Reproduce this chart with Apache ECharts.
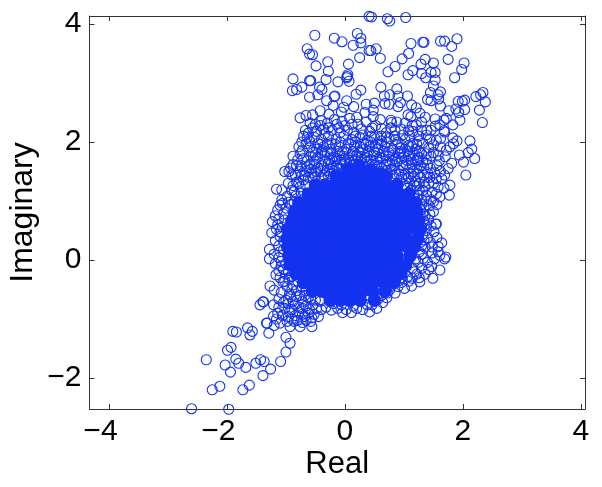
<!DOCTYPE html>
<html>
<head>
<meta charset="utf-8">
<style>
  html, body { margin: 0; padding: 0; background: #fff; }
  #chart { width: 602px; height: 487px; }
</style>
<script src="https://cdn.jsdelivr.net/npm/echarts@6/dist/echarts.min.js"></script>
</head>
<body>
<div id="chart"></div>
<script>
const xTicks = [-4, -2, 0, 2, 4];
const yTicks = [-2, 0, 2, 4];

// scattered points above the blob, read one by one
const topPoints = [
  [-0.51,3.81],[-0.18,3.76],[-0.05,3.70],[0.21,3.84],[0.27,3.76],[0.27,3.68],[0.14,3.64],[0.41,3.55],[0.25,3.43],
  [-0.64,3.58],[-0.60,3.49],[-0.55,3.48],[-0.49,3.29],[-0.29,3.36],[-0.28,3.20],[0.06,3.32],[-0.88,3.07],[-0.58,3.04],
  [-0.60,3.04],[-0.32,3.06],[-0.12,3.02],[0.04,3.11],[0.05,3.14],[0.03,3.09],[0.07,3.03],[-0.89,2.87],[-0.82,2.89],
  [-0.73,2.93],[-0.60,2.76],[-0.46,2.80],[-0.43,2.93],[-0.39,2.89],[-0.31,2.70],[-0.17,2.78],[-0.18,2.77],[0.27,2.88],
  [0.19,2.81],[0.03,2.70],[-0.20,2.62],[0.15,2.60],[0.36,2.64],[0.34,2.50],[0.20,2.42],[-0.02,2.59],[-0.06,2.51],
  [-0.42,2.53],[-0.76,2.41],[-0.66,2.45],[-0.55,2.46],[-0.27,2.47],[-0.67,2.20],[-0.59,2.32],[0.41,4.13],[0.45,4.12],
  [0.72,4.09],[0.76,4.05],[1.03,4.11],[1.12,3.67],[1.32,3.69],[1.34,3.69],[1.62,3.71],[1.69,3.71],[1.81,3.62],[1.90,3.75],
  [0.53,3.58],[0.44,3.55],[0.60,3.42],[1.08,3.50],[0.97,3.41],[1.75,3.40],[2.02,3.34],[1.98,3.23],[1.86,3.09],[1.36,3.40],
  [1.29,3.32],[1.50,3.34],[0.85,3.28],[0.73,3.19],[1.15,3.21],[1.07,3.14],[1.30,3.16],[1.37,3.09],[1.46,3.18],[1.53,3.18],
  [1.53,3.05],[1.50,2.95],[0.61,2.93],[0.88,2.90],[1.62,2.85],[1.45,2.84],[1.58,2.80],[0.67,2.78],[0.76,2.80],[0.90,2.78],
  [1.06,2.78],[1.40,2.72],[1.46,2.70],[1.59,2.73],[2.34,2.84],[2.30,2.80],[2.22,2.77],[2.38,2.68],[2.03,2.71],[1.92,2.69],
  [1.99,2.69],[0.50,2.66],[0.68,2.65],[0.75,2.64],[0.90,2.60],[0.94,2.67],[1.13,2.63],[1.21,2.58],[1.62,2.61],[1.76,2.53],
  [1.88,2.56],[2.03,2.55],[1.93,2.50],[2.28,2.54],[2.33,2.33],[1.95,2.37],[1.83,2.29],[0.48,2.54],[0.48,2.43],[0.78,2.37],
  [0.79,2.33],[0.62,2.23],[1.07,2.46],[1.12,2.43],[1.27,2.49],[1.36,2.42],[1.53,2.39],[1.72,2.40],[1.68,2.37],[1.02,2.32],
  [1.21,2.29],[1.61,2.29],[1.53,2.27],[1.39,2.20],[1.68,2.19]
];

// right side of the upper band
const rightPoints = [
  [2.20,1.72],[2.05,1.44],[2.12,2.02],[2.15,1.88],[2.09,1.82],[2.01,1.66],[1.90,2.02],[1.84,1.97],[1.83,2.07],[1.69,2.17],
  [1.94,1.78],[1.81,1.64],[1.60,1.68],[1.78,1.27],[1.77,1.10],[1.69,1.44],[1.64,1.38],[1.61,1.07],[1.58,1.24],[1.54,0.61],
  [1.50,0.99],[1.50,0.82],[1.51,0.48],[1.64,0.29],[1.58,0.23],[1.71,0.05],[1.61,0.08],[1.69,0.02],[1.61,-0.17],[1.55,0.61],
  [1.58,0.14],[1.49,-0.31],[1.47,-0.11],[1.27,-0.37],[1.13,-0.44],[1.01,-0.48],[0.85,-0.56],[0.71,-0.64],[0.54,-0.82],
  [0.42,-0.88],[0.11,-0.89],[-0.04,-0.89],[-0.23,-0.85],[1.72,1.86],[1.62,1.92],[1.55,2.03],[1.70,1.75],[1.50,1.82],
  [1.45,1.55],[1.52,1.48],[1.42,1.30],[1.48,1.15],[1.38,1.10],[1.43,0.92],[1.36,0.75],[1.42,0.68],[1.40,0.38],[1.45,0.30],
  [1.36,0.22],[1.48,0.12],[1.33,0.03],[1.40,-0.04],[1.30,-0.14],[1.36,-0.24],[1.22,-0.24],[1.14,-0.31],[0.96,-0.38],
  [0.90,-0.45],[0.76,-0.50],[0.64,-0.72],[0.30,-0.84],[0.20,-0.82],[0.02,-0.84],[-0.12,-0.82],[-0.32,-0.80],[-0.40,-0.84]
];

// dense ring band between y 1.4 and 2.4
const upperBand = [
  [-0.73,2.00],[-0.88,1.76],[-0.80,1.70],[-1.02,1.50],[-0.95,1.50],[-1.16,1.20],[-1.07,1.19],[-1.07,1.02],[-1.10,0.93],
  [-1.14,0.85],[-0.70,2.10],[-0.62,2.15],[-0.50,2.30],[-0.40,2.36],[-0.30,2.32],[-0.18,2.38],[-0.05,2.35],[0.08,2.40],
  [0.22,2.30],[0.36,2.34],[0.60,2.38],[0.88,2.34],[1.15,2.18],[1.30,2.34],[-0.48,2.18],[-0.36,2.22],[-0.22,2.20],[-0.10,2.24],
  [0.04,2.20],[0.15,2.16],[0.28,2.22],[0.42,2.18],[0.52,2.28],[0.70,2.16],[0.85,2.20],[0.98,2.12],[1.08,2.20],[1.25,2.10],
  [1.44,2.05],[-0.60,2.02],[-0.52,2.08],[-0.40,2.04],[-0.28,2.10],[-0.15,2.05],[-0.02,2.10],[0.12,2.04],[0.25,2.08],[0.38,2.03],
  [0.50,2.08],[0.62,2.02],[0.75,2.06],[0.90,2.00],[1.02,2.04],[1.15,1.98],[1.32,1.98],[1.42,1.90],[-0.72,1.86],[-0.60,1.90],
  [-0.48,1.88],[-0.36,1.92],[-0.24,1.88],[-0.10,1.92],[0.02,1.88],[0.16,1.92],[0.30,1.87],[0.42,1.92],[0.56,1.88],[0.68,1.92],
  [0.80,1.86],[0.94,1.90],[1.06,1.85],[1.20,1.88],[1.30,1.80],[-0.82,1.60],[-0.70,1.72],[-0.58,1.76],[-0.46,1.74],[-0.34,1.78],
  [-0.20,1.74],[-0.08,1.78],[0.06,1.74],[0.20,1.78],[0.34,1.74],[0.48,1.78],[0.60,1.74],[0.74,1.76],[0.86,1.72],[1.00,1.75],
  [1.12,1.70],[1.24,1.68],[1.38,1.70],[-0.90,1.44],[-0.76,1.50],[-0.64,1.58],[-0.52,1.62],[-0.40,1.60],[-0.28,1.64],[-0.14,1.60],
  [0.00,1.64],[0.12,1.60],[0.26,1.66],[0.70,1.62],[0.84,1.60],[0.98,1.60],[1.10,1.56],[1.22,1.54],[1.34,1.56],[-0.68,1.44],
  [-0.56,1.48],[-0.42,1.50],[-0.30,1.52],[-0.18,1.50],[1.02,1.46],[1.16,1.42],[1.28,1.40],[-0.82,1.32],[-0.70,1.36],[-0.96,1.30],
  [1.10,1.30],[1.22,1.25],[1.32,1.18],[-0.90,1.18],[-0.98,1.08],[1.30,1.02],[1.34,0.90]
];

// rings packed between the ones above, the band is close to solid in the reference
const upperFill = [
  [-0.55,2.24],[-0.42,2.28],[-0.28,2.24],[-0.14,2.30],[0.00,2.28],[0.12,2.30],[0.30,2.12],[0.46,2.24],[0.62,2.10],[0.78,2.24],
  [0.95,2.22],[1.14,2.28],[1.30,2.20],[-0.64,2.08],[-0.46,1.98],[-0.34,2.14],[-0.22,1.98],[-0.08,2.16],[0.06,1.98],[0.18,2.10],
  [0.32,1.98],[0.44,2.10],[0.56,1.97],[0.70,2.08],[0.84,2.10],[0.96,1.95],[1.10,2.10],[1.22,1.96],[1.38,2.12],[1.50,1.95],
  [-0.78,1.92],[-0.66,1.97],[-0.54,1.82],[-0.42,1.96],[-0.30,1.82],[-0.16,1.96],[-0.04,1.82],[0.10,1.96],[0.24,1.82],[0.36,1.96],
  [0.50,1.83],[0.62,1.96],[0.74,1.82],[0.88,1.96],[1.00,1.82],[1.14,1.92],[1.26,1.84],[1.38,1.80],[-0.88,1.62],[-0.76,1.80],
  [-0.64,1.68],[-0.52,1.68],[-0.40,1.82],[-0.26,1.70],[-0.12,1.84],[0.00,1.70],[0.14,1.84],[0.28,1.70],[0.40,1.84],[0.54,1.70],
  [0.66,1.84],[0.80,1.68],[0.92,1.80],[1.06,1.68],[1.18,1.78],[1.32,1.66],[1.46,1.76],[-0.92,1.56],[-0.74,1.60],[-0.58,1.54],
  [-0.46,1.56],[-0.34,1.68],[-0.22,1.56],[-0.06,1.70],[0.06,1.56],[0.18,1.70],[0.32,1.58],[0.44,1.70],[0.58,1.60],[0.70,1.52],
  [0.80,1.54],[0.92,1.52],[1.04,1.62],[1.16,1.50],[1.28,1.60],[1.40,1.48],[-0.84,1.44],[-0.62,1.40],[-0.50,1.42],[-0.36,1.44],
  [-0.24,1.46],[-0.10,1.54],[0.02,1.54],[0.14,1.52],[0.26,1.54],[0.38,1.58],[0.50,1.60],[0.62,1.56],[0.86,1.46],[0.96,1.40],
  [1.08,1.40],[1.20,1.34],[1.34,1.32],[-0.88,1.26],[-0.76,1.24],[-0.74,1.14],[-0.84,1.08],[-0.96,0.98],[1.00,1.28],[1.12,1.18],
  [1.24,1.10],[1.36,1.24],[1.38,1.00],[-0.92,0.94],[1.32,0.78],[1.34,0.66],[1.30,0.55],[1.38,0.50],[1.32,0.44],[1.28,0.30],
  [1.34,0.34],[1.26,0.14],[1.30,0.10],[1.20,0.02],[1.24,-0.04],[1.14,-0.14],[1.18,-0.20],[1.06,-0.28],[1.08,-0.36],[0.96,-0.30],
  [0.86,-0.36],[0.78,-0.44],[0.72,-0.56],[0.62,-0.60],[0.56,-0.66],[0.46,-0.76],[0.38,-0.76],[0.14,-0.78],[-0.06,-0.76],[-0.20,-0.74],
  [1.75,1.55],[1.58,1.78],[1.78,1.92],[1.62,2.06],[1.46,2.20],[1.56,1.60],[1.62,1.50],[1.55,1.38],[1.68,1.22],[1.50,1.30],
  [1.55,1.12],[1.46,1.02],[1.56,0.94],[1.44,0.78],[1.46,0.58],[1.56,0.38],[1.48,0.22],[1.52,0.02],[1.42,-0.16],[1.26,-0.30]
];

// tightest part of the band, right above the saturated middle
const upperDense = [
  [-0.60,1.62],[-0.48,1.50],[-0.36,1.56],[-0.24,1.62],[-0.16,1.68],[-0.04,1.62],[0.08,1.66],[0.16,1.62],[0.22,1.74],[0.36,1.66],
  [0.46,1.62],[0.56,1.66],[0.64,1.72],[0.76,1.64],[0.88,1.66],[0.96,1.72],[1.08,1.76],[1.14,1.62],[1.26,1.74],[-0.66,1.50],
  [-0.54,1.40],[-0.40,1.38],[-0.28,1.42],[-0.14,1.46],[0.72,1.46],[0.82,1.42],[0.92,1.46],[1.04,1.38],[1.12,1.46],[1.24,1.46],
  [1.34,1.44],[-0.74,1.42],[-0.78,1.30],[-0.66,1.26],[-0.86,1.16],[-0.72,1.02],[-0.86,0.98],[1.06,1.22],[1.18,1.26],[1.26,1.18],
  [1.18,1.06],[1.30,0.94],[1.28,0.84],[1.26,1.30],[-0.50,1.78],[-0.38,1.86],[-0.24,1.80],[-0.14,1.72],[-0.02,1.76],[0.12,1.78],
  [0.26,1.92],[0.38,1.78],[0.52,1.92],[0.70,1.78],[0.82,1.78],[0.94,1.84],[1.10,1.80],[1.22,1.70],[-0.30,1.96],[-0.08,2.00],
  [0.18,2.00],[0.44,2.00],[0.70,2.00],[0.86,2.04],[1.08,1.94],[1.26,2.02],[1.40,1.62],[1.44,1.40],[1.36,0.60],[1.30,0.24]
];

// left edge and lower left arm
const lowerBand = [
  [-1.23,0.65],[-1.24,0.46],[-1.28,0.18],[-1.28,0.02],[-1.17,-0.25],[-1.05,-0.37],[-1.27,-0.44],[-1.20,-0.51],[-1.44,-0.76],
  [-1.39,-0.71],[-1.33,-1.07],[-1.21,-0.76],[-1.21,-0.95],[-1.10,-1.07],[-0.93,-1.13],[-0.76,-1.13],[-0.56,-1.13],[-0.45,-0.96],
  [-1.18,0.75],[-1.12,0.70],[-1.16,0.52],[-1.10,0.40],[-1.18,0.33],[-1.12,0.24],[-1.20,0.10],[-1.12,0.04],[-1.18,-0.06],[-1.08,-0.10],
  [-1.12,-0.18],[-1.00,-0.24],[-0.95,-0.32],[-1.10,-0.30],[-0.98,-0.45],[-0.88,-0.42],[-1.08,-0.55],[-0.94,-0.58],[-0.82,-0.52],
  [-0.76,-0.60],[-1.12,-0.66],[-1.00,-0.68],[-0.88,-0.70],[-0.72,-0.70],[-0.62,-0.64],[-1.12,-0.80],[-1.02,-0.82],[-0.90,-0.84],
  [-0.78,-0.80],[-0.66,-0.78],[-0.54,-0.76],[-0.48,-0.82],[-1.06,-0.94],[-0.96,-0.96],[-0.84,-0.94],[-0.72,-0.92],[-0.62,-0.90],
  [-0.52,-0.92],[-0.98,-1.04],[-0.86,-1.04],[-0.66,-1.02],[-0.58,-1.04],[-1.38,-0.71],[-1.32,-1.07],[-1.20,-1.11],[-1.90,-1.21],
  [-1.84,-1.22],[-1.65,-1.15],[-1.57,-1.21],[-1.61,-1.27],[-1.29,-1.24],[-1.93,-1.48],[-1.99,-1.53],[-2.35,-1.69],[-2.03,-1.78],
  [-1.85,-1.68],[-1.80,-1.75],[-1.94,-1.90],[-1.68,-1.82],[-1.51,-1.75],[-1.43,-1.69],[-1.37,-1.72],[-1.26,-1.85],[-1.39,-1.96],
  [-1.09,-1.72],[-1.00,-1.56],[-0.93,-1.41],[-1.00,-1.31],[-2.12,-2.14],[-2.25,-2.20],[-1.62,-2.12],[-1.73,-2.20],[-2.60,-2.52],[-1.97,-2.53]
];

// more rings packed along the left edge and the start of the arm
const lowerFill = [
  [-1.14,0.60],[-1.06,0.56],[-1.10,0.48],[-1.04,0.32],[-1.10,0.14],[-1.04,0.18],[-1.08,-0.02],[-1.00,-0.06],[-1.04,-0.16],[-0.96,-0.18],
  [-1.02,0.68],[-1.04,0.78],[-1.00,0.88],[-1.06,0.96],[-0.90,-0.28],[-0.80,-0.36],[-0.72,-0.46],[-0.66,-0.52],[-0.90,-0.50],[-1.02,-0.36],
  [-0.92,-0.62],[-0.82,-0.62],[-0.68,-0.60],[-0.58,-0.66],[-0.50,-0.68],[-0.42,-0.70],[-0.96,-0.74],[-0.84,-0.76],[-0.72,-0.82],[-0.60,-0.84],
  [-0.94,-0.88],[-0.78,-0.88],[-0.68,-0.96],[-0.56,-0.98],[-1.14,-0.90],[-1.04,-0.72],[-0.90,-1.00],[-0.80,-1.02],[-0.72,-1.06],[-1.16,-1.00]
];

// saturated middle of the cloud, individual rings can't be told apart there
const corePoints = [
  [0.06,1.54],[0.24,1.60],[0.42,1.52],[0.60,1.46],
  [-0.15,1.42],[0.02,1.42],[0.19,1.42],[0.36,1.42],[0.53,1.42],[0.70,1.42],
  [-0.50,1.27],[-0.33,1.27],[-0.16,1.27],[0.01,1.27],[0.18,1.27],[0.35,1.27],[0.52,1.27],[0.69,1.27],[0.88,1.27],
  [-0.62,1.12],[-0.45,1.12],[-0.28,1.12],[-0.11,1.12],[0.06,1.12],[0.23,1.12],[0.40,1.12],[0.57,1.12],[0.74,1.12],[0.91,1.12],[1.08,1.12],
  [-0.78,0.97],[-0.61,0.97],[-0.44,0.97],[-0.27,0.97],[-0.10,0.97],[0.07,0.97],[0.24,0.97],[0.41,0.97],[0.58,0.97],[0.75,0.97],[0.92,0.97],[1.09,0.97],[1.20,0.97],
  [-0.85,0.82],[-0.68,0.82],[-0.51,0.82],[-0.34,0.82],[-0.17,0.82],[0.00,0.82],[0.17,0.82],[0.34,0.82],[0.51,0.82],[0.68,0.82],[0.85,0.82],[1.02,0.82],[1.22,0.82],
  [-0.90,0.67],[-0.75,0.67],[-0.58,0.67],[-0.41,0.67],[-0.24,0.67],[-0.07,0.67],[0.10,0.67],[0.27,0.67],[0.44,0.67],[0.61,0.67],[0.78,0.67],[0.95,0.67],[1.12,0.67],[1.25,0.67],
  [-0.97,0.52],[-0.80,0.52],[-0.63,0.52],[-0.46,0.52],[-0.29,0.52],[-0.12,0.52],[0.05,0.52],[0.22,0.52],[0.39,0.52],[0.56,0.52],[0.73,0.52],[0.90,0.52],[1.07,0.52],[1.27,0.52],
  [-0.98,0.37],[-0.85,0.37],[-0.68,0.37],[-0.51,0.37],[-0.34,0.37],[-0.17,0.37],[0.00,0.37],[0.17,0.37],[0.34,0.37],[0.51,0.37],[0.68,0.37],[0.85,0.37],[1.02,0.37],[1.23,0.37],
  [-0.97,0.22],[-0.80,0.22],[-0.63,0.22],[-0.46,0.22],[-0.29,0.22],[-0.12,0.22],[0.05,0.22],[0.22,0.22],[0.39,0.22],[0.56,0.22],[0.73,0.22],[0.90,0.22],[1.07,0.22],[1.18,0.22],
  [-0.95,0.07],[-0.82,0.07],[-0.65,0.07],[-0.48,0.07],[-0.31,0.07],[-0.14,0.07],[0.03,0.07],[0.20,0.07],[0.37,0.07],[0.54,0.07],[0.71,0.07],[0.88,0.07],[1.10,0.07],
  [-0.93,-0.08],[-0.76,-0.08],[-0.59,-0.08],[-0.42,-0.08],[-0.25,-0.08],[-0.08,-0.08],[0.09,-0.08],[0.26,-0.08],[0.43,-0.08],[0.60,-0.08],[0.77,-0.08],[0.90,-0.08],[1.03,-0.08],
  [-0.83,-0.23],[-0.66,-0.23],[-0.49,-0.23],[-0.32,-0.23],[-0.15,-0.23],[0.02,-0.23],[0.19,-0.23],[0.36,-0.23],[0.53,-0.23],[0.70,-0.23],[0.82,-0.23],[0.95,-0.23],
  [-0.70,-0.38],[-0.53,-0.38],[-0.36,-0.38],[-0.19,-0.38],[-0.02,-0.38],[0.15,-0.38],[0.32,-0.38],[0.49,-0.38],[0.66,-0.38],[0.83,-0.38],
  [-0.55,-0.53],[-0.38,-0.53],[-0.21,-0.53],[-0.04,-0.53],[0.13,-0.53],[0.30,-0.53],[0.47,-0.53],[0.68,-0.53],
  [-0.25,-0.68],[-0.08,-0.68],[0.09,-0.68],[0.26,-0.68],[0.50,-0.68]
];

const ringPoints = topPoints.concat(rightPoints, upperBand, upperFill, upperDense, lowerBand, lowerFill);

const blue = '#1433f0';
const axisColor = '#333';
const fontFamily = '"Liberation Sans", Arial, sans-serif';

const xRange = { min: -4.33, max: 4.07 };
const yRange = { min: -2.525, max: 4.136 };

const frameAxis = (position, range, ticks) => ({
    type: 'value',
    position,
    min: range.min,
    max: range.max,
    splitLine: { show: false },
    axisLine: { show: true, onZero: false, lineStyle: { color: axisColor, width: 1 } },
    axisTick: { show: true, inside: true, length: 5, customValues: ticks, lineStyle: { color: axisColor } },
    axisLabel: { show: false }
});

const mainAxis = (position, range, ticks, name, nameGap, nameSize, formatter) => ({
    ...frameAxis(position, range, ticks),
    name,
    nameLocation: 'middle',
    nameGap,
    nameMoveOverlap: false,
    nameTextStyle: { color: '#000', fontSize: nameSize, fontFamily },
    axisLabel: {
        show: true,
        customValues: ticks,
        formatter,
        color: '#000',
        fontSize: 30,
        fontFamily,
        margin: 8,
        // keeps the digit over the tick, the minus hangs out to the left
        rich: { pad: { width: 17, fontSize: 30, fontFamily } }
    }
});

const xLabel = (v) => (v < 0 ? '\u2212' + Math.abs(v) + '{pad| }' : String(v));
const yLabel = (v) => String(v).replace('-', '\u2212');

const chart = echarts.init(document.getElementById('chart'));
chart.setOption({
    animation: false,
    backgroundColor: '#fff',
    grid: { left: 89.5, right: 17, top: 16, bottom: 78, outerBoundsMode: 'none' },
    xAxis: [
        mainAxis('bottom', xRange, xTicks, 'Real', 40, 31, xLabel),
        frameAxis('top', xRange, xTicks)
    ],
    yAxis: [
        mainAxis('left', yRange, yTicks, 'Imaginary', 50, 32, yLabel),
        frameAxis('right', yRange, yTicks)
    ],
    series: [
        {
            type: 'scatter',
            data: corePoints,
            symbol: 'circle',
            symbolSize: 13.5,
            clip: false,
            silent: true,
            itemStyle: { color: blue, opacity: 1 }
        },
        {
            type: 'scatter',
            data: ringPoints,
            symbol: 'circle',
            symbolSize: 10,
            clip: false,
            silent: true,
            itemStyle: { color: 'transparent', borderColor: blue, borderWidth: 1.1, opacity: 1 }
        }
    ]
});
</script>
</body>
</html>
